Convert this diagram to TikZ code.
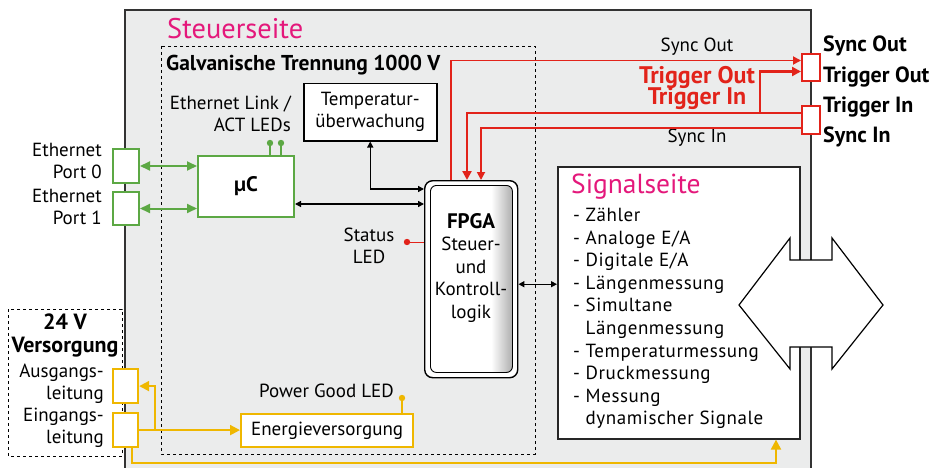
\documentclass[tikz,border=0pt]{standalone}
\usepackage{fontspec}
\setmainfont{PT Sans}
\usetikzlibrary{arrows.meta,calc}
\definecolor{grn}{HTML}{5CA844}
\definecolor{rd}{HTML}{E2231A}
\definecolor{yl}{HTML}{EFB700}
\definecolor{mag}{HTML}{E4187B}
\definecolor{bgg}{HTML}{EBECEC}
\pgfdeclarehorizontalshading{fpgash}{100bp}{color(0bp)=(white); color(62bp)=(white); color(75bp)=(black!32); color(100bp)=(black!32)}
\begin{document}
\begin{tikzpicture}[x=1pt,y=-1pt,
  txt/.style={font=\fontsize{19}{22}\selectfont, inner sep=0pt},
  btxt/.style={font=\fontsize{22}{23}\selectfont\bfseries, inner sep=0pt},
  boxnw/.style={draw, anchor=north west, inner sep=0pt, fill=white},
  gbox/.style={boxnw, draw=grn, line width=2pt},
  rbox/.style={boxnw, draw=rd, line width=2pt},
  ybox/.style={boxnw, draw=yl, line width=2.2pt},
  blk/.style={line width=1.3pt, {Triangle[length=6pt,width=6pt]}-{Triangle[length=6pt,width=6pt]}},
  grnline/.style={draw=grn, line width=2pt, {Triangle[length=10pt,width=9pt]}-{Triangle[length=10pt,width=9pt]}},
  redthin/.style={draw=rd, line width=1.8pt, -{Triangle[length=8pt,width=8pt]}},
  redthick/.style={draw=rd, line width=2.8pt, -{Triangle[length=9pt,width=9pt]}},
  yline/.style={draw=yl, line width=2pt, -{Triangle[length=10pt,width=10pt]}}]
\useasboundingbox (0,0) rectangle (931,468);
% main grey box
\fill[bgg] (125,10) rectangle (811,468);
\draw[line width=1.5pt, black!80] (125,468) -- (125,10) -- (811,10) -- (811,468);
\node[anchor=west, text=mag, inner sep=0pt, font=\fontsize{28.4}{30}\selectfont] (steuer) at (167,29) {Steuerseite};
% galvanic isolation
\draw[dashed, line width=0.9pt] (161,46) rectangle (535,454);
\node[btxt, anchor=west, font=\fontsize{21.5}{23}\selectfont\bfseries] (galv) at (166,65) {Galvanische Trennung 1000 V};
% 24V box
\draw[dashed, line width=0.9pt] (8,309) rectangle (122,456);
\node[btxt, align=center] (v24) at (65,335) {24 V\\Versorgung};
\node[txt, anchor=east, align=right] (ausl) at (104,384) {Ausgangs-\\leitung};
\node[txt, anchor=east, align=right] (einl) at (104,428) {Eingangs-\\leitung};
% ethernet
\node[gbox, minimum width=26pt, minimum height=34pt] (p0) at (112,148) {};
\node[gbox, minimum width=26pt, minimum height=33pt] (p1) at (112,191) {};
\node[txt, anchor=east, align=right] (p0l) at (102,161) {Ethernet\\Port 0};
\node[txt, anchor=east, align=right] (p1l) at (102,207) {Ethernet\\Port 1};
\node[gbox, minimum width=96pt, minimum height=61pt, font=\fontsize{21}{22}\selectfont\bfseries] (uc) at (197,155) {µC};
\node[txt, anchor=east, align=right] (ethled) at (291,114) {Ethernet Link /\\ACT LEDs};
\coordinate (g1) at (270,143);
\coordinate (g2) at (281,143);
\draw[grn, line width=1.3pt] (g1) -- (g1 |- uc.north) (g2) -- (g2 |- uc.north);
\fill[grn] (g1) circle (3.2pt) (g2) circle (3.2pt);
\draw[grnline] (p0.east) -- (p0.east -| uc.west);
\draw[grnline] (p1.east) -- (p1.east -| uc.west);
% temperature
\node[boxnw, line width=1.5pt, minimum width=133pt, minimum height=57pt, align=center, txt] (temp) at (303,83) {Temperatur-\\überwachung};
% FPGA
\node[boxnw, line width=1.4pt, rounded corners=8pt, minimum width=93pt, minimum height=197pt] (fpga) at (424,180) {};
\node[anchor=north west, draw, line width=0.9pt, rounded corners=6pt, minimum width=82pt, minimum height=187pt, inner sep=0pt, shading=fpgash] (fpgain) at (430,185) {};
\node[txt, align=center, font=\fontsize{19}{22.5}\selectfont] (fpgat) at (471,268) {{\fontsize{21}{22}\selectfont\bfseries FPGA}\\Steuer-\\und\\Kontroll-\\logik};
% status LED
\node[txt, align=center] (stat) at (369,246) {Status\\LED};
\coordinate (sd) at (407,242);
\draw[rd, line width=1pt] (sd) -- (sd -| fpga.west);
\fill[rd] (sd) circle (3.2pt);
% black connectors
\coordinate (ucr) at ($(uc.south east)+(0,-14)$);
\draw[blk] (ucr) -- (ucr -| fpga.west);
\coordinate (tf) at ($(fpga.north west)+(0,9)$);
\draw[blk] (temp.south) |- (tf);
% signal side
\node[boxnw, line width=1.6pt, draw=black!85, minimum width=242pt, minimum height=272pt] (sig) at (557,166) {};
\node[anchor=west, text=mag, inner sep=0pt, font=\fontsize{27.5}{29}\selectfont] (sigt) at (571,187) {Signalseite};
\node[anchor=north west, align=left, inner sep=0pt, font=\fontsize{19}{22.6}\selectfont\addfontfeatures{LetterSpace=3}] (list) at (573,208) {- Zähler\\- Analoge E/A\\- Digitale E/A\\- Längenmessung\\- Simultane\\\phantom{- }Längenmessung\\- Temperaturmessung\\- Druckmessung\\- Messung\\\phantom{- }dynamischer Signale};
\coordinate (fs) at ($(fpga.west)+(0,5)$);
\draw[blk] (fs -| fpga.east) -- (fs -| sig.west);
% sync / trigger ports
\node[rbox, minimum width=18pt, minimum height=27pt] (so) at (801,53) {};
\node[rbox, minimum width=18pt, minimum height=28pt] (si) at (801,105) {};
\node[btxt, anchor=west] (l1) at (823,46) {Sync Out};
\node[btxt, anchor=west] (l2) at (823,77) {Trigger Out};
\node[btxt, anchor=west] (l3) at (823,107) {Trigger In};
\node[btxt, anchor=west] (l4) at (823,137) {Sync In};
\node[txt] (soint) at (697,47) {Sync Out};
\node[btxt, text=rd, font=\fontsize{24}{24}\selectfont\bfseries] (toint) at (697,77) {Trigger Out};
\node[btxt, text=rd, font=\fontsize{24}{24}\selectfont\bfseries] (tiint) at (697,99) {Trigger In};
\node[txt] (siint) at (697,138) {Sync In};
\draw[redthin] ($(fpga.north west)+(27,0)$) |- ($(so.west)+(0,-7)$);
\coordinate (tj) at ($(si.west)+(-41,-7)$);
\draw[redthick] (tj) |- ($(so.west)+(0,4)$);
\draw[redthick] ($(si.west)+(0,-7)$) -| ($(fpga.north west)+(43,0)$);
\draw[redthin] ($(si.west)+(0,8)$) -| ($(fpga.north west)+(57,0)$);
% power
\node[ybox, minimum width=25pt, minimum height=34pt] (ao) at (112,368) {};
\node[ybox, minimum width=25pt, minimum height=34pt] (ei) at (112,412) {};
\node[ybox, minimum width=172pt, minimum height=33pt, txt] (en) at (240,413) {Energieversorgung};
\node[txt, anchor=east] (pg) at (394,391) {Power Good LED};
\coordinate (pd) at (402,398);
\draw[yl, line width=1.3pt] (pd) -- (pd |- en.north);
\fill[yl] (pd) circle (3.2pt);
\draw[yline] (ei.east) -- (ei.east -| en.west);
\coordinate (yb) at ($(ei.east)+(16,0)$);
\draw[yline] (yb) |- (ao.east);
\draw[yline] ($(ei.south)+(6,0)$) |- ($(sig.south west)+(219,23)$) -- ($(sig.south west)+(219,0)$);
% big double arrow
\draw[fill=white, line width=1.2pt, line join=miter] (739,305) -- (790,238) -- (790,260) -- (832,260) -- (832,238) -- (883,305) -- (832,369) -- (832,347) -- (790,347) -- (790,369) -- cycle;
\end{tikzpicture}
\end{document}
